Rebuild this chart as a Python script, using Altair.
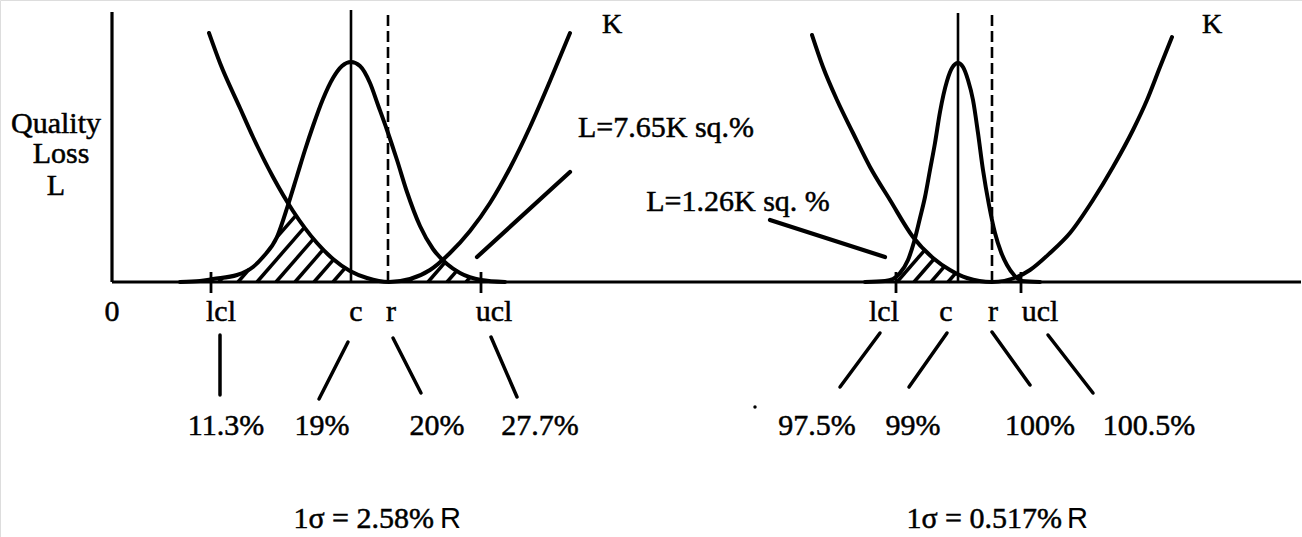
import numpy as np
import pandas as pd
import altair as alt

# Drawing frame: origin at the corner of the axes, one unit per pixel.
W, H = 1302, 537
X_DOMAIN = [-112, 1190]
Y_DOMAIN = [-255, 282]

# ---------------- left case: 1σ = 2.58% R ----------------
norm_a_x = [68, 88, 101, 125, 141, 151, 165, 176, 185, 193, 201, 211, 221, 230, 239,
            248, 258, 266, 275, 285, 295, 308, 321, 335, 348, 369, 393]
norm_a_y = [0, 1, 3, 7, 15, 25, 45, 77, 106, 132, 156, 183, 204, 216, 220,
            216, 199, 177, 152, 122, 90, 56, 33, 18, 9, 2, 0]
loss_a_x = [97, 108, 128, 141, 161, 181, 205, 221, 238, 255, 277,
            298, 318, 338, 358, 378, 398, 418, 438, 458]
loss_a_y = [249, 219, 174, 145, 105, 71, 39, 23, 11, 4, 0,
            3, 12, 29, 51, 79, 114, 155, 201, 249]
limits_a = [99, 239, 276, 369]          # lcl, c, r, ucl
values_a = ["11.3%", "19%", "20%", "27.7%"]
sigma_a = "1σ = 2.58%"
loss_label_a = "L=7.65K sq.%"

# ---------------- right case: 1σ = 0.517% R ----------------
norm_b_x = [753, 773, 781, 788, 796, 802, 808, 813, 818, 823, 828, 835, 840, 846,
            851, 856, 861, 866, 871, 877, 883, 889, 895, 902, 910, 928]
norm_b_y = [0, 1, 3, 9, 22, 40, 64, 85, 112, 139, 170, 201, 214, 219,
            215, 202, 182, 149, 112, 77, 49, 30, 17, 7, 1, 0]
loss_b_x = [700, 711, 725, 741, 758, 778, 801, 821, 838, 855, 880,
            905, 918, 938, 958, 981, 1001, 1021, 1035, 1048, 1060]
loss_b_y = [247, 215, 182, 149, 115, 82, 45, 24, 12, 4, 0,
            5, 12, 29, 49, 82, 115, 152, 182, 215, 245]
limits_b = [784, 846, 880, 909]         # lcl, c, r, ucl
values_b = ["97.5%", "99%", "100%", "100.5%"]
sigma_b = "1σ = 0.517%"
loss_label_b = "L=1.26K sq. %"

limit_names = ["lcl", "c", "r", "ucl"]
y_title = ["Quality", "Loss", "L"]

# ---------------- layout of the annotations ----------------
name_x_a = [109, 244, 279, 382]
name_x_b = [772, 834, 881, 928]
value_x_a = [114, 210, 325, 428]
value_x_b = [705, 801, 928, 1037]
leaders_a = [(108, -53, 108, -113), (236, -60, 207, -117),
             (281, -56, 309, -111), (379, -55, 405, -115)]
leaders_b = [(768, -51, 728, -105), (835, -51, 797, -105),
             (880, -50, 918, -103), (936, -53, 981, -111)]
pointer_a = (458, 110, 365, 25)
pointer_b = (658, 62, 773, 25)

xs = alt.Scale(domain=X_DOMAIN, range=[0, W], nice=False, zero=False)
ys = alt.Scale(domain=Y_DOMAIN, range=[H, 0], nice=False, zero=False)


def enc_xy(chart, two=False):
    e = dict(x=alt.X("x:Q", scale=xs, axis=None), y=alt.Y("y:Q", scale=ys, axis=None))
    if two:
        e.update(x2=alt.X2("x2"), y2=alt.Y2("y2"))
    return chart.encode(**e)


def hatch(cx, cy, dx, dy, lo, hi, start, step, rise):
    """Diagonal hatching under the lower envelope of two curves, lo..hi."""
    grid = np.linspace(lo, hi, int((hi - lo) * 4) + 1)
    top = np.minimum(np.interp(grid, cx, cy), np.interp(grid, dx, dy))
    rows = []
    k_lo = int(np.floor((lo - 300 - start) / step))
    k_hi = int(np.ceil((hi - start) / step))
    for k in range(k_lo, k_hi + 1):
        x0 = start + k * step
        h = rise * (grid - x0)
        inside = (h >= 0) & (h <= top)
        if not inside.any():
            continue
        edges = np.flatnonzero(np.diff(np.r_[0, inside.astype(int), 0]))
        for a, b in zip(edges[::2], edges[1::2] - 1):
            if grid[b] - grid[a] < 3:
                continue
            rows.append(dict(x=grid[a], y=h[a], x2=grid[b], y2=h[b]))
    return rows


# curves
curve_rows = []
for name, cx, cy in [("norm_a", norm_a_x, norm_a_y), ("loss_a", loss_a_x, loss_a_y),
                     ("norm_b", norm_b_x, norm_b_y), ("loss_b", loss_b_x, loss_b_y)]:
    for i, (x, y) in enumerate(zip(cx, cy)):
        curve_rows.append(dict(curve=name, i=i, x=x, y=y))
curves = pd.DataFrame(curve_rows)

# hatched loss areas
hatch_rows = []
hatch_rows += hatch(norm_a_x, norm_a_y, loss_a_x, loss_a_y, limits_a[0], limits_a[1], 126, 19, 1.15)
hatch_rows += hatch(norm_a_x, norm_a_y, loss_a_x, loss_a_y, limits_a[2], limits_a[3], 126, 19, 1.15)
hatch_rows += hatch(norm_b_x, norm_b_y, loss_b_x, loss_b_y, limits_b[0], limits_b[1], 785, 17, 1.15)
hatch_rows += hatch(norm_b_x, norm_b_y, loss_b_x, loss_b_y, limits_b[2], limits_b[3], 785, 17, 1.15)
hatches = pd.DataFrame(hatch_rows)

# frame
frame = pd.DataFrame([dict(x=0, y=0, x2=0, y2=270), dict(x=0, y=0, x2=1189, y2=0)])
ticks = pd.DataFrame([dict(x=v, y=10, x2=v, y2=-11)
                      for v in (limits_a[0], limits_a[3], limits_b[0], limits_b[3])])
centres = pd.DataFrame([dict(x=limits_a[1], y=0, x2=limits_a[1], y2=272),
                        dict(x=limits_b[1], y=0, x2=limits_b[1], y2=269)])
refs = pd.DataFrame([dict(x=limits_a[2], y=0, x2=limits_a[2], y2=269),
                     dict(x=limits_b[2], y=0, x2=limits_b[2], y2=269)])
leaders = pd.DataFrame([dict(x=a, y=b, x2=c, y2=d) for a, b, c, d in leaders_a + leaders_b])
pointers = pd.DataFrame([dict(x=a, y=b, x2=c, y2=d) for a, b, c, d in (pointer_a, pointer_b)])

# texts
serif_rows = [dict(t="0", x=0, y=-39)]
serif_rows += [dict(t=n, x=x, y=-39) for n, x in zip(limit_names, name_x_a)]
serif_rows += [dict(t=n, x=x, y=-39) for n, x in zip(limit_names, name_x_b)]
serif_rows += [dict(t=v, x=x, y=-153) for v, x in zip(values_a, value_x_a)]
serif_rows += [dict(t=v, x=x, y=-153) for v, x in zip(values_b, value_x_b)]
serif_rows += [dict(t=t, x=x, y=y) for t, x, y in zip(y_title, [-56, -51, -56], [149, 119, 87])]
serif_rows += [dict(t=loss_label_a, x=554, y=145), dict(t=loss_label_b, x=626, y=71)]
serif_text = pd.DataFrame(serif_rows)
k_text = pd.DataFrame([dict(t="K", x=500, y=249), dict(t="K", x=1100, y=249)])
sigma_text = pd.DataFrame([dict(t=sigma_a, x=322, y=-246), dict(t=sigma_b, x=950, y=-246)])
r_text = pd.DataFrame([dict(t="R", x=328, y=-246), dict(t="R", x=955, y=-246)])
speck = pd.DataFrame([dict(x=643, y=-125)])

BLACK = "#000000"
TXT = dict(font="Liberation Serif", color=BLACK, baseline="alphabetic",
           stroke=BLACK, strokeWidth=0.5)
layers = [
    enc_xy(alt.Chart(hatches).mark_rule(color=BLACK, strokeWidth=3.5), two=True),
    enc_xy(alt.Chart(frame).mark_rule(color=BLACK, strokeWidth=3.2), two=True),
    enc_xy(alt.Chart(ticks).mark_rule(color=BLACK, strokeWidth=2.8), two=True),
    enc_xy(alt.Chart(centres).mark_rule(color=BLACK, strokeWidth=2.6), two=True),
    enc_xy(alt.Chart(refs).mark_rule(color=BLACK, strokeWidth=2.6, strokeDash=[11, 5]), two=True),
    enc_xy(alt.Chart(leaders).mark_rule(color=BLACK, strokeWidth=3.5, strokeCap="round"), two=True),
    enc_xy(alt.Chart(pointers).mark_rule(color=BLACK, strokeWidth=4.2, strokeCap="round"), two=True),
    alt.Chart(curves).mark_line(color=BLACK, strokeWidth=4, interpolate="monotone",
                                strokeCap="round", strokeJoin="round").encode(
        x=alt.X("x:Q", scale=xs, axis=None), y=alt.Y("y:Q", scale=ys, axis=None),
        detail="curve:N", order="i:Q"),
    enc_xy(alt.Chart(serif_text).mark_text(fontSize=30, align="center", **TXT)).encode(text="t:N"),
    enc_xy(alt.Chart(k_text).mark_text(fontSize=28, align="center", **TXT)).encode(text="t:N"),
    enc_xy(alt.Chart(sigma_text).mark_text(fontSize=30, align="right", **TXT)).encode(text="t:N"),
    enc_xy(alt.Chart(r_text).mark_text(font="Liberation Sans", fontSize=29, color=BLACK,
                                       baseline="alphabetic", align="left")).encode(text="t:N"),
    enc_xy(alt.Chart(speck).mark_circle(color=BLACK, size=12, opacity=1)),
]

chart = alt.layer(*layers).properties(
    width=W, height=H, padding=0,
    autosize=alt.AutoSizeParams(type="none"),
).configure_view(strokeWidth=0).configure(background="white")

chart.save("out.html", embed_options={"renderer": "svg", "actions": False})
